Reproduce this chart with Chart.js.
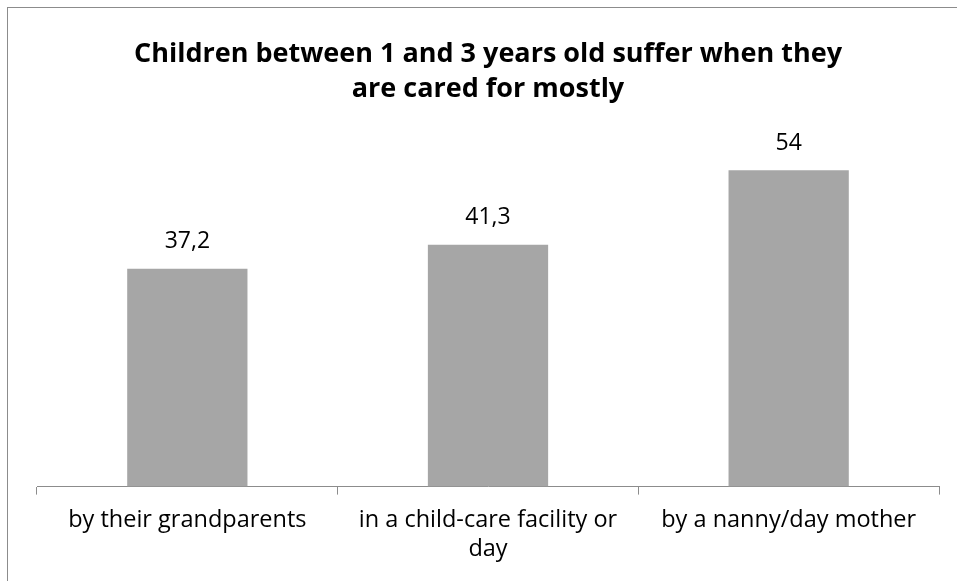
<!DOCTYPE html>
<html>
<head>
<meta charset="utf-8">
<script src="https://cdn.jsdelivr.net/npm/chart.js@4/dist/chart.umd.min.js"></script>
<style>
  html, body { margin: 0; padding: 0; background: #fff; overflow: hidden; width: 957px; height: 581px; }
  #wrap { position: relative; width: 957px; height: 581px; }
  #frame { position: absolute; left: 7px; top: 7px; width: 1100px; height: 800px; border: 1px solid #8c8c8c; box-sizing: border-box; }
  canvas { position: absolute; left: 0; top: 0; }
</style>
</head>
<body>
<div id="wrap">
  <div id="frame"></div>
  <canvas id="c" width="957" height="581"></canvas>
</div>
<script>
const titleLines = ["Children between 1 and 3 years old suffer when they", "are cared for mostly"];
const categories = [["by their grandparents"], ["in a child-care facility or", "day"], ["by a nanny/day mother"]];
const values = [37.2, 41.3, 54];
const yMin = 0;
const yMax = 60;

const FONT = "'Open Sans', 'Noto Sans', sans-serif";

const valueLabels = {
  id: 'valueLabels',
  afterDatasetsDraw(chart) {
    const ctx = chart.ctx;
    const meta = chart.getDatasetMeta(0);
    ctx.save();
    ctx.font = "23px " + FONT;
    ctx.fillStyle = "#000";
    ctx.textAlign = "center";
    ctx.textBaseline = "middle";
    meta.data.forEach((bar, i) => {
      const txt = String(chart.data.datasets[0].data[i]).replace('.', ',');
      ctx.fillText(txt, bar.x, bar.y - 27);
    });
    ctx.restore();
  }
};

new Chart(document.getElementById('c'), {
  type: 'bar',
  data: {
    labels: categories,
    datasets: [{
      data: values,
      backgroundColor: '#a6a6a6',
      borderWidth: 0,
      barPercentage: 0.4,
      categoryPercentage: 1.0
    }]
  },
  options: {
    responsive: false,
    animation: false,
    devicePixelRatio: 1,
    layout: { padding: { left: 37, right: 18, top: 0, bottom: 6 } },
    plugins: {
      legend: { display: false },
      tooltip: { enabled: false },
      title: {
        display: true,
        text: titleLines,
        color: '#000',
        font: { family: FONT, size: 27, weight: 'bold', lineHeight: 1.3 },
        padding: { top: 37, bottom: 28 }
      }
    },
    scales: {
      x: {
        grid: { display: true, drawOnChartArea: false, drawTicks: true, tickLength: 8, color: '#8c8c8c', offset: true },
        border: { display: true, color: '#8c8c8c', width: 1 },
        ticks: { color: '#000', font: { family: FONT, size: 23.5, lineHeight: 1.2 }, padding: 12, maxRotation: 0, autoSkip: false }
      },
      y: {
        display: false,
        min: yMin,
        max: yMax
      }
    }
  },
  plugins: [valueLabels]
});
</script>
</body>
</html>
